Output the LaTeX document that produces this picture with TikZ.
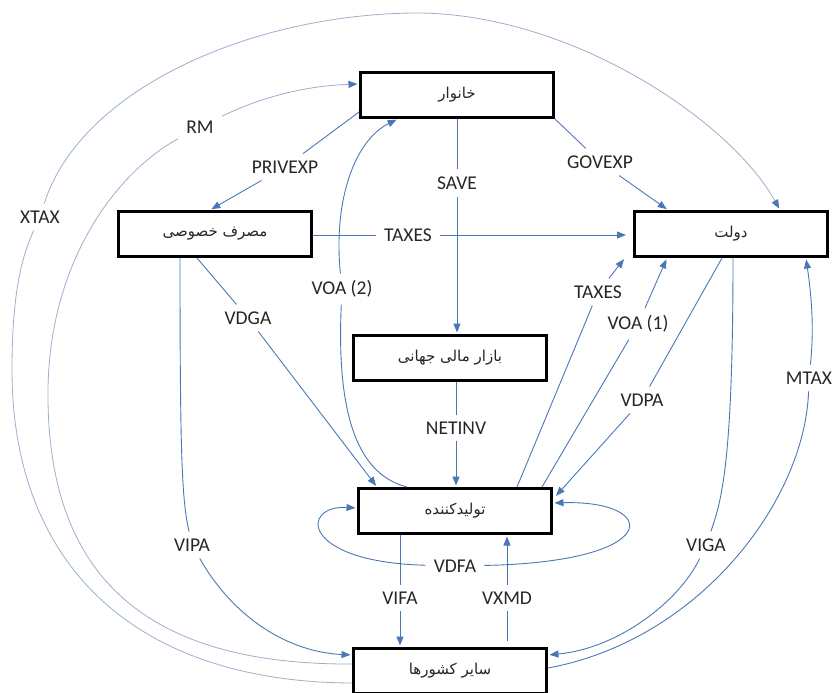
\documentclass[tikz,border=0pt]{standalone}
\usepackage{fontspec}
\usepackage{tikz}
\usetikzlibrary{arrows.meta}
\newfontfamily\labfont{Carlito}
\newfontfamily\fafont[Script=Arabic]{DejaVu Sans}
\TeXXeTstate=1

\begin{document}
\begin{tikzpicture}[x=1pt,y=-1pt,
  box/.style={draw=black,line width=3pt,fill=white,minimum width=193pt,minimum height=45pt,inner sep=0pt,text=black!85,font={\fafont\fontsize{15}{17}\selectfont}},
  lab/.style={inner xsep=8pt,inner ysep=7pt,text=black!85,font={\labfont\fontsize{19.5}{21}\selectfont}},
  link/.style={draw=flowBlue,line width=0.9pt},
  flow/.style={link,shorten >=1.5pt,-{Triangle[length=9pt,width=7pt]}},
  arc/.style={draw=arcBlue,line width=0.8pt},
  arcflow/.style={arc,shorten >=1.5pt,-{Triangle[length=9pt,width=7pt,color=flowBlue]}}]
\definecolor{flowBlue}{HTML}{4A78B4}
\definecolor{arcBlue}{HTML}{9AB0CB}
\useasboundingbox (0,0) rectangle (836,693);

\node[box] (hh) at (457,95) {\beginR خانوار\endR};
\node[box] (pc) at (215,234) {\beginR مصرف خصوصی\endR};
\node[box] (gov) at (731,234) {\beginR دولت\endR};
\node[box] (wcm) at (450,358) {\beginR بازار مالی جهانی\endR};
\node[box] (prod) at (455,511) {\beginR تولیدکننده\endR};
\node[box] (row) at (450,671) {\beginR سایر کشورها\endR};

\node[lab] (rm) at (200,127) {RM};
\node[lab] (xtax) at (40,217) {XTAX};
\node[lab] (privexp) at (285,167) {PRIVEXP};
\node[lab] (save) at (457,183) {SAVE};
\node[lab] (govexp) at (600,162) {GOVEXP};
\node[lab] (taxa) at (408,235) {TAXES};
\node[lab] (voab) at (342,289) {VOA (2)};
\node[lab] (vdga) at (248,318) {VDGA};
\node[lab] (taxb) at (598,292) {TAXES};
\node[lab] (voaa) at (638,324) {VOA (1)};
\node[lab] (vdpa) at (642,400) {VDPA};
\node[lab] (netinv) at (456,428) {NETINV};
\node[lab] (mtax) at (809,378) {MTAX};
\node[lab] (viga) at (706,545) {VIGA};
\node[lab] (vipa) at (192,545) {VIPA};
\node[lab] (vdfa) at (455,566) {VDFA};
\node[lab] (vifa) at (400,598) {VIFA};
\node[lab] (vxmd) at (507,598) {VXMD};

\coordinate (rmBend) at (48,400);
\coordinate (xtaxBend) at (12,370);
\coordinate (xtaxTop) at (416,13);

\draw[arc] ([yshift=7pt]row.west) .. controls (150,665) and (50,580) .. (rmBend)
  .. controls (46,260) and (120,170) .. (rm);
\draw[arcflow] (rm) .. controls (255,100) and (300,86) .. ([yshift=11pt]hh.west);
\draw[arc] ([yshift=-12pt]row.west) .. controls (130,682) and (12,560) .. (xtaxBend)
  .. controls (12,300) and (20,260) .. (xtax);
\draw[arcflow] (xtax) .. controls (80,90) and (250,14) .. (xtaxTop)
  .. controls (570,13) and (730,120) .. ([xshift=49pt]gov.north);

\draw[link] ([yshift=7pt]hh.south west) -- (privexp);
\draw[flow] (privexp) -- ([xshift=-5pt]pc.north);
\draw[link] (save |- hh.south) -- (save);
\draw[flow] (save) -- (save |- wcm.north);
\draw[link] (hh.south east) -- (govexp);
\draw[flow] (govexp) -- ([xshift=-63pt]gov.north);
\draw[link] (taxa -| pc.east) -- (taxa);
\draw[flow,shorten >=7pt] (taxa) -- (taxa -| gov.west);

\draw[link] ([xshift=62pt]prod.north) -- (taxb);
\draw[flow] (taxb) -- ([xshift=-8pt]gov.south west);
\draw[link] ([xshift=87pt]prod.north) -- (voaa);
\draw[flow] (voaa) -- ([xshift=-64pt]gov.south);
\draw[link] ([xshift=-9pt]gov.south) -- (vdpa);
\draw[flow] (vdpa) -- ([xshift=2pt,yshift=14pt]prod.east);

\draw[link] ([xshift=2pt]gov.south) .. controls (733,460) and (722,500) .. (viga);
\draw[flow] (viga) .. controls (680,600) and (620,648) .. ([yshift=16pt]row.east);
\draw[link] ([yshift=3pt]row.east) .. controls (700,640) and (805,500) .. (mtax);
\draw[flow] (mtax) .. controls (814,330) and (812,300) .. ([xshift=75pt]gov.south);

\draw[link] ([xshift=-35pt]pc.south) .. controls (180,460) and (182,500) .. (vipa);
\draw[flow] (vipa) .. controls (235,620) and (290,652) .. ([yshift=16pt]row.west);
\draw[link] ([xshift=-18pt]pc.south) -- (vdga);
\draw[flow] (vdga) -- ([xshift=-78pt]prod.north);

\draw[link] ([xshift=-48pt]prod.north) .. controls (360,475) and (336,420) .. (voab);
\draw[flow] (voab) .. controls (333,200) and (355,140) .. ([xshift=-59pt]hh.south);

\draw[link] (netinv |- wcm.south) -- (netinv);
\draw[flow] (netinv) -- (netinv |- prod.north);

\draw[flow] (vdfa) .. controls (300,562) and (300,505) .. ([yshift=3pt]prod.west);
\draw[flow] (vdfa) .. controls (665,562) and (660,500) .. ([yshift=8pt]prod.east);

\draw[link] (vifa |- prod.south) -- (vifa);
\draw[flow] (vifa) -- (vifa |- row.north);
\draw[link,shorten <=6pt] (vxmd |- row.north) -- (vxmd);
\draw[flow] (vxmd) -- (vxmd |- prod.south);
\end{tikzpicture}
\end{document}
